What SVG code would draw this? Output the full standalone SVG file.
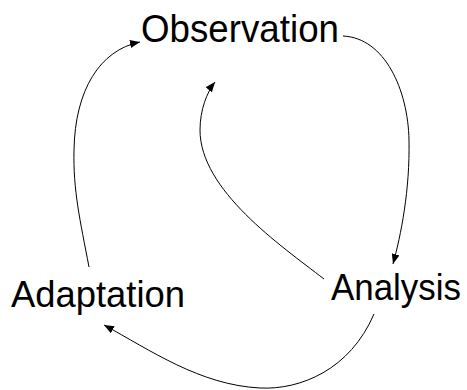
<svg xmlns="http://www.w3.org/2000/svg" width="467" height="390" viewBox="0 0 467 390">
<style>
text{font-family:"Liberation Sans",Arial,sans-serif;font-size:39px;fill:#000}
.c{fill:none;stroke:#000;stroke-width:1}
</style>
<defs>
<marker id="ah" markerWidth="10" markerHeight="8" refX="10" refY="4" orient="auto" markerUnits="userSpaceOnUse">
<path d="M0,0 L10,4 L0,8 Z" fill="#000"/>
</marker>
</defs>
<rect width="467" height="390" fill="#fff"/>
<g id="connectors">
<path class="c" marker-end="url(#ah)" d="M343,36 C385,38 408,90 409,140 C410,190 401,235 393,264"/>
<path class="c" marker-end="url(#ah)" d="M324,279 C280,245 200,190 200,130 C200,110 207,92 215,82"/>
<path class="c" marker-end="url(#ah)" d="M374,314 C350,370 300,390 260,388 C200,385 150,350 104,325"/>
<path class="c" marker-end="url(#ah)" d="M89,267 C80,220 73,190 74,150 C75,90 100,50 140,42"/>
</g>
<g id="observation"><text x="141" y="42" textLength="198" lengthAdjust="spacingAndGlyphs">Observation</text></g>
<g id="analysis"><text x="331" y="300" textLength="130" lengthAdjust="spacingAndGlyphs" style="font-size:36px">Analysis</text></g>
<g id="adaptation"><text x="11" y="307" textLength="174" lengthAdjust="spacingAndGlyphs" style="font-size:37px">Adaptation</text></g>
</svg>
